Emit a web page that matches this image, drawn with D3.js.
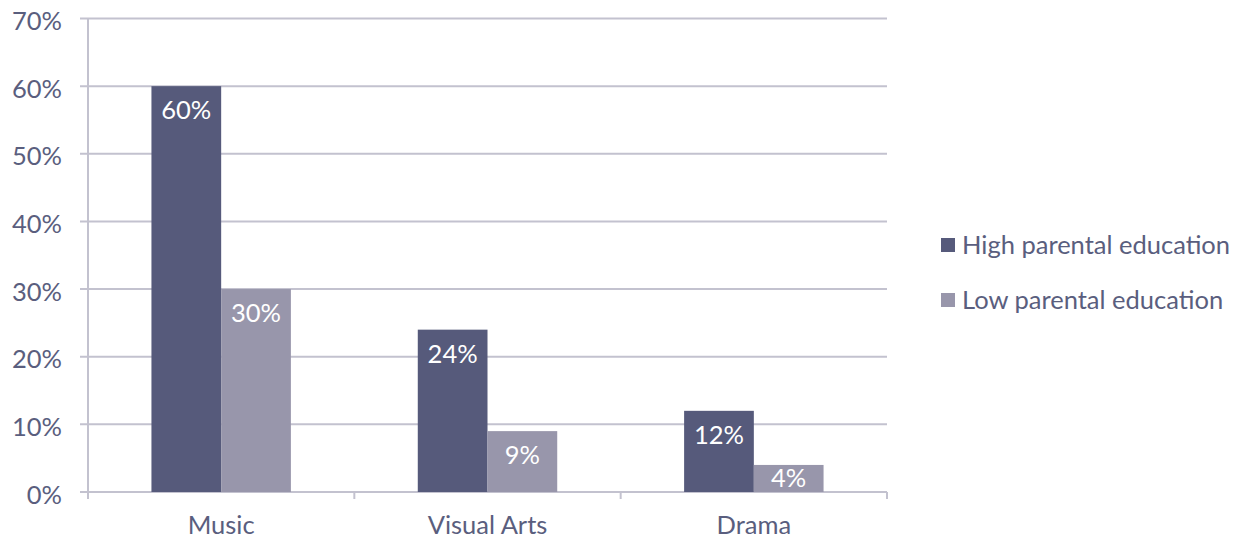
<!DOCTYPE html>
<html><head><meta charset="utf-8">
<script src="https://cdn.jsdelivr.net/npm/d3@7"></script>
<style>body{margin:0;background:#fff}svg{display:block}text{font-family:Lato,"Open Sans",sans-serif;font-weight:400}</style>
</head><body><svg id="c" width="1246" height="540"></svg>
<script>
const categories = ["Music", "Visual Arts", "Drama"];
const seriesNames = ["High parental education", "Low parental education"];
const highValues = [60, 24, 12];
const lowValues = [30, 9, 4];
const yTicks = [0, 10, 20, 30, 40, 50, 60, 70];
const colors = ["#565a7b", "#9896ab"];

const svg = d3.select("#c");
const L = 88, R = 887, T = 18.5, B = 492;
const FS = 25.5;
const x = d3.scaleBand().domain(categories).range([L, R]).paddingInner(0).paddingOuter(0);
const xs = d3.scaleBand().domain(seriesNames).range([0, x.bandwidth()]).paddingInner(0).paddingOuter(0.91);
const y = d3.scaleLinear().domain([0, 70]).range([B, T]);
const textCol = "#5a5e7e", gridCol = "#c3c2cf";

// gridlines
svg.append("g").selectAll("line").data(yTicks).join("line")
  .attr("x1", L - 8).attr("x2", R).attr("y1", d => y(d)).attr("y2", d => y(d))
  .attr("stroke", gridCol).attr("stroke-width", 2);
// y axis line
svg.append("line").attr("x1", L).attr("x2", L).attr("y1", T).attr("y2", B + 7).attr("stroke", gridCol).attr("stroke-width", 2);
// category ticks
const bounds = [L, ...categories.map(c => x(c) + x.bandwidth())];
svg.append("g").selectAll("line").data(bounds).join("line")
  .attr("x1", d => d).attr("x2", d => d).attr("y1", B).attr("y2", B + 7)
  .attr("stroke", gridCol).attr("stroke-width", 2);
// y labels
svg.append("g").selectAll("text").data(yTicks).join("text")
  .attr("x", 62).attr("y", d => y(d) + 11.5).attr("text-anchor", "end")
  .attr("fill", textCol).attr("font-size", FS).text(d => d + "%");
// x labels
svg.append("g").selectAll("text").data(categories).join("text")
  .attr("x", d => x(d) + x.bandwidth() / 2).attr("y", 534).attr("text-anchor", "middle")
  .attr("fill", textCol).attr("font-size", FS).text(d => d);

const data = [];
categories.forEach((c, i) => {
  data.push({c, s: seriesNames[0], v: highValues[i], col: colors[0]});
  data.push({c, s: seriesNames[1], v: lowValues[i], col: colors[1]});
});
const g = svg.append("g");
g.selectAll("rect").data(data).join("rect")
  .attr("x", d => x(d.c) + xs(d.s)).attr("width", xs.bandwidth())
  .attr("y", d => y(d.v)).attr("height", d => B - y(d.v)).attr("fill", d => d.col);
g.selectAll("text").data(data).join("text")
  .attr("x", d => x(d.c) + xs(d.s) + xs.bandwidth() / 2)
  .attr("y", d => Math.min(y(d.v) + 33, B - 5.5))
  .attr("text-anchor", "middle").attr("fill", "#fff").attr("font-size", FS)
  .text(d => d.v + "%");

// legend
const lg = svg.append("g").selectAll("g").data(seriesNames).join("g")
  .attr("transform", (d, i) => `translate(941,${238 + i * 55})`);
lg.append("rect").attr("x", 0).attr("y", 0).attr("width", 14).attr("height", 14).attr("fill", (d, i) => colors[i]);
lg.append("text").attr("x", 21).attr("y", 15.5).attr("fill", textCol).attr("font-size", FS).text(d => d);
</script></body></html>
